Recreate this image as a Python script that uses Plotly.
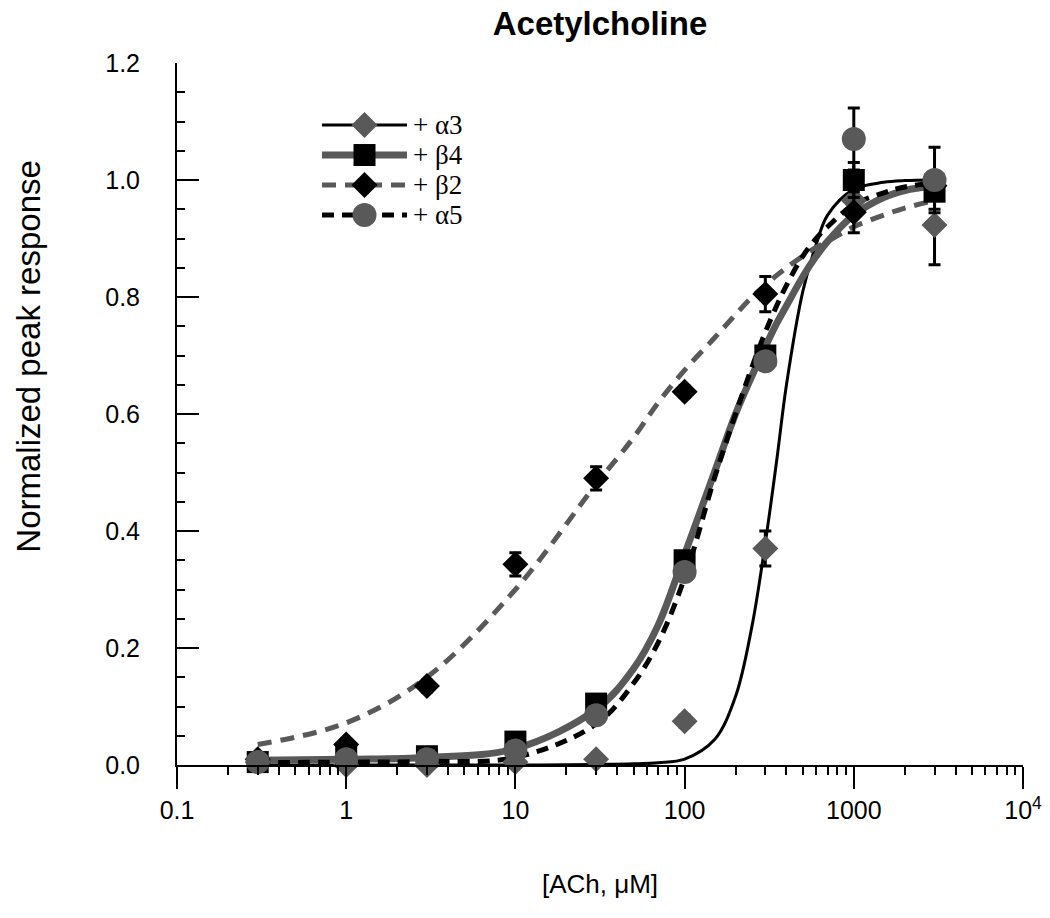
import plotly.graph_objects as go

# Concentrations of ACh (uM) used for the measurements
conc = [0.3, 1, 3, 10, 30, 100, 300, 1000, 3000]

# Measured peak responses (normalized) and their errors
a3_resp = [0.005, 0.0, 0.0, 0.005, 0.01, 0.075, 0.37, 0.965, 0.923]
a3_err = [0, 0, 0, 0, 0, 0.01, 0.03, 0, 0.068]
b4_resp = [0.005, 0.015, 0.015, 0.04, 0.105, 0.35, 0.70, 1.0, 0.98]
b4_err = [0, 0, 0, 0, 0, 0.01, 0.015, 0.03, 0.03]
b2_resp = [0.01, 0.035, 0.135, 0.343, 0.49, 0.638, 0.805, 0.945, 0.99]
b2_err = [0, 0.005, 0.01, 0.02, 0.02, 0.01, 0.03, 0.035, 0]
a5_resp = [0.005, 0.01, 0.01, 0.025, 0.085, 0.33, 0.69, 1.07, 1.0]
a5_err = [0, 0, 0, 0, 0, 0, 0.01, 0.053, 0.056]

# Fitted curves
fit_conc = [0.3, 1, 3, 10, 30, 50, 70, 100, 150, 200, 250, 300, 350, 400,
            500, 600, 700, 1000, 1500, 2000, 3000]
a3_fit = [0.0, 0.0, 0.0, 0.0, 0.001, 0.002, 0.004, 0.01, 0.043, 0.117, 0.237,
          0.38, 0.52, 0.65, 0.81, 0.89, 0.94, 0.984, 0.996, 0.999, 1.0]
b4_fit = [0.008, 0.01, 0.013, 0.028, 0.095, 0.165, 0.24, 0.36, 0.5, 0.6,
          0.665, 0.715, 0.755, 0.785, 0.835, 0.87, 0.895, 0.94, 0.97, 0.982, 0.99]
b2_fit = [0.035, 0.072, 0.15, 0.3, 0.48, 0.56, 0.62, 0.675, 0.73, 0.77, 0.8,
          0.82, 0.837, 0.85, 0.87, 0.885, 0.895, 0.92, 0.94, 0.952, 0.965]
a5_fit = [0.004, 0.005, 0.006, 0.013, 0.07, 0.14, 0.21, 0.32, 0.49, 0.6, 0.68,
          0.74, 0.785, 0.82, 0.87, 0.9, 0.92, 0.958, 0.978, 0.988, 0.995]

series_names = ["+ \u03b13", "+ \u03b24", "+ \u03b22", "+ \u03b15"]

x_ticks = [0.1, 1, 10, 100, 1000, 10000]
x_ticktext = ["0.1", "1", "10", "100", "1000", "10<sup>4</sup>"]

GRAY = "#595959"
BLACK = "#000000"

line_styles = [
    dict(color=BLACK, width=3),
    dict(color=GRAY, width=7),
    dict(color=GRAY, width=5, dash="14px,9px"),
    dict(color=BLACK, width=5, dash="12px,8px"),
]
marker_styles = [
    dict(symbol="diamond", size=20, color=GRAY),
    dict(symbol="square", size=22, color=BLACK),
    dict(symbol="diamond", size=20, color=BLACK),
    dict(symbol="circle", size=24, color=GRAY),
]
fits = [a3_fit, b4_fit, b2_fit, a5_fit]
resps = [a3_resp, b4_resp, b2_resp, a5_resp]
errs = [a3_err, b4_err, b2_err, a5_err]

fig = go.Figure()

# curves first so markers sit on top
for fit, line in zip(fits, line_styles):
    fig.add_scatter(
        x=fit_conc, y=fit, mode="lines", line=dict(shape="spline", **line),
        showlegend=False, hoverinfo="skip",
    )

for resp, err, marker in zip(resps, errs, marker_styles):
    fig.add_scatter(
        x=conc, y=resp, mode="markers", marker=marker, showlegend=False,
        cliponaxis=False,
        error_y=dict(type="data", array=err, visible=True, color=BLACK,
                     thickness=3, width=6),
    )

# hand-made legend on an overlay axis spanning the plot area (0..1)
leg_x = [0.1714, 0.2719]
leg_rows = [0.9117, 0.8689, 0.8262, 0.7835]
leg_text_x = 0.276
for name, row, line, marker in zip(series_names, leg_rows, line_styles,
                                   marker_styles):
    fig.add_scatter(
        x=leg_x, y=[row, row], mode="lines", line=line,
        xaxis="x2", yaxis="y2", showlegend=False, hoverinfo="skip",
        cliponaxis=False,
    )
    fig.add_scatter(
        x=[sum(leg_x) / 2], y=[row], mode="markers", marker=marker,
        xaxis="x2", yaxis="y2", showlegend=False, hoverinfo="skip",
        cliponaxis=False,
    )
    fig.add_annotation(
        text=name, xref="x2", yref="y2", x=leg_text_x, y=row,
        xanchor="left", yanchor="middle", showarrow=False,
        font=dict(family="Liberation Serif, Times New Roman", size=27),
    )

fig.update_xaxes(
    type="log",
    range=[-1, 4],
    tickmode="array",
    tickvals=x_ticks,
    ticktext=x_ticktext,
    ticks="outside",
    ticklen=22,
    tickwidth=2,
    tickcolor="black",
    minor=dict(ticks="outside", ticklen=8, tickwidth=2, tickcolor="black",
               dtick="D1", showgrid=False),
    showline=True,
    linecolor="black",
    linewidth=2,
    showgrid=False,
    zeroline=False,
    tickfont=dict(size=25),
    title=dict(text="[ACh, \u03bcM]", font=dict(size=26), standoff=52),
)
fig.update_yaxes(
    range=[0, 1.2],
    dtick=0.2,
    tickformat=".1f",
    ticks="inside",
    ticklen=22,
    tickwidth=2,
    tickcolor="black",
    minor=dict(ticks="inside", ticklen=8, tickwidth=2, tickcolor="black",
               dtick=0.05, showgrid=False),
    showline=True,
    linecolor="black",
    linewidth=2,
    showgrid=False,
    zeroline=False,
    tickfont=dict(size=25),
    ticklabelstandoff=30,
)

fig.add_annotation(
    text="Normalized peak response", textangle=-90,
    xref="paper", yref="paper", x=-0.175, y=0.583,
    xanchor="center", yanchor="middle",
    showarrow=False, font=dict(size=33),
)

fig.update_layout(
    width=1050,
    height=918,
    margin=dict(l=169, r=35, t=55, b=161),
    paper_bgcolor="white",
    plot_bgcolor="white",
    font=dict(family="Liberation Sans, Arial", color="black"),
    title=dict(text="<b>Acetylcholine</b>", xref="paper", x=0.5,
               xanchor="center", yref="container", y=0.983,
               yanchor="middle", font=dict(size=33)),
    showlegend=False,
    xaxis2=dict(overlaying="x", anchor="y2", range=[0, 1], visible=False,
                fixedrange=True),
    yaxis2=dict(overlaying="y", anchor="x2", range=[0, 1], visible=False,
                fixedrange=True),
)

fig.write_html("out.html")
